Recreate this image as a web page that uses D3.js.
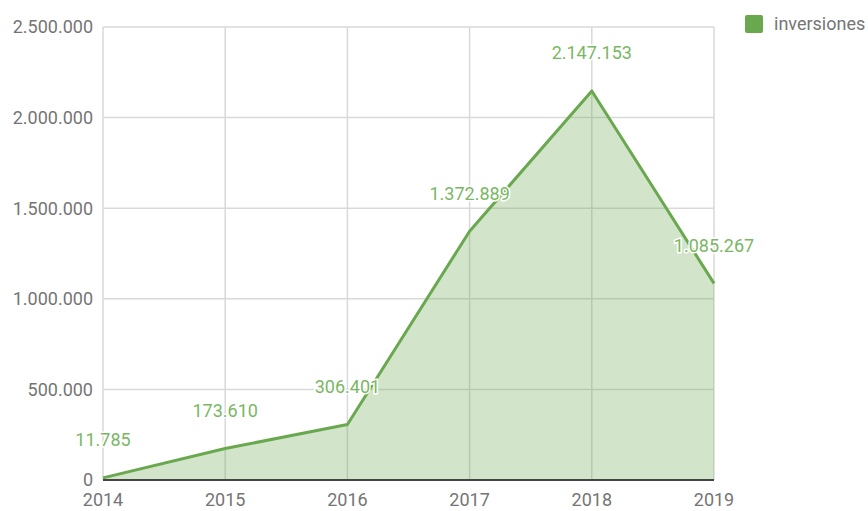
<!DOCTYPE html>
<html>
<head>
<meta charset="utf-8">
<script src="https://cdn.jsdelivr.net/npm/d3@7"></script>
<style>
  body { margin: 0; background: #fff; }
  text { font-family: Roboto, sans-serif; }
</style>
</head>
<body>
<div id="chart"></div>
<script>
const years = [2014, 2015, 2016, 2017, 2018, 2019];
const inversiones = [11785, 173610, 306401, 1372889, 2147153, 1085267];
const yTicks = [0, 500000, 1000000, 1500000, 2000000, 2500000];
const seriesName = "inversiones";

const width = 868, height = 511;
const margin = { left: 103, right: 154, top: 27, bottom: 31 };

const svg = d3.select("#chart")
    .append("svg")
    .attr("width", width)
    .attr("height", height);

const fmt = d3.formatLocale({ decimal: ",", thousands: ".", grouping: [3], currency: ["", "€"] }).format(",d");

const x = d3.scalePoint()
    .domain(years)
    .range([margin.left, width - margin.right]);

const y = d3.scaleLinear()
    .domain([0, 2500000])
    .range([height - margin.bottom, margin.top]);

const lineColor = "#6aa84f";
const labelColor = "#7ab765";
const greyText = "#757575";

// grid
svg.append("g")
    .selectAll("line")
    .data(yTicks)
    .join("line")
    .attr("x1", margin.left)
    .attr("x2", width - margin.right)
    .attr("y1", d => y(d))
    .attr("y2", d => y(d))
    .attr("stroke", "#d9d9d9")
    .attr("stroke-width", 1.5);

svg.append("g")
    .selectAll("line")
    .data(years)
    .join("line")
    .attr("x1", d => x(d))
    .attr("x2", d => x(d))
    .attr("y1", margin.top)
    .attr("y2", height - margin.bottom)
    .attr("stroke", "#d9d9d9")
    .attr("stroke-width", 1.5);

const pts = years.map((yr, i) => ({ year: yr, value: inversiones[i] }));

// area + line
svg.append("path")
    .datum(pts)
    .attr("d", d3.area().x(d => x(d.year)).y0(y(0)).y1(d => y(d.value)))
    .attr("fill", lineColor)
    .attr("fill-opacity", 0.3);

svg.append("line")
    .attr("x1", margin.left)
    .attr("x2", width - margin.right)
    .attr("y1", y(0))
    .attr("y2", y(0))
    .attr("stroke", "#444")
    .attr("stroke-width", 2);

svg.append("path")
    .datum(pts)
    .attr("d", d3.line().x(d => x(d.year)).y(d => y(d.value)))
    .attr("fill", "none")
    .attr("stroke", lineColor)
    .attr("stroke-width", 3)
    .attr("stroke-linejoin", "round");

// y tick labels
svg.append("g")
    .selectAll("text")
    .data(yTicks)
    .join("text")
    .attr("x", margin.left - 10)
    .attr("y", d => y(d))
    .attr("dy", "0.35em")
    .attr("text-anchor", "end")
    .attr("font-size", 18)
    .attr("fill", greyText)
    .text(d => fmt(d));

// x tick labels
svg.append("g")
    .selectAll("text")
    .data(years)
    .join("text")
    .attr("x", d => x(d))
    .attr("y", height - margin.bottom + 20)
    .attr("dy", "0.35em")
    .attr("text-anchor", "middle")
    .attr("font-size", 18)
    .attr("fill", greyText)
    .text(d => d);

// data labels
const labels = svg.append("g")
    .selectAll("text")
    .data(pts)
    .join("text")
    .attr("x", d => x(d.year))
    .attr("y", d => y(d.value) - 38)
    .attr("dy", "0.35em")
    .attr("text-anchor", "middle")
    .attr("font-size", 18)
    .attr("fill", labelColor)
    .attr("stroke", "#fff")
    .attr("stroke-width", 3)
    .attr("paint-order", "stroke")
    .text(d => fmt(d.value));

// legend
svg.append("rect")
    .attr("x", 745)
    .attr("y", 15)
    .attr("width", 18)
    .attr("height", 18)
    .attr("rx", 2)
    .attr("fill", lineColor);

svg.append("text")
    .attr("x", 774)
    .attr("y", 24)
    .attr("dy", "0.35em")
    .attr("font-size", 18)
    .attr("fill", greyText)
    .text(seriesName);
</script>
</body>
</html>
